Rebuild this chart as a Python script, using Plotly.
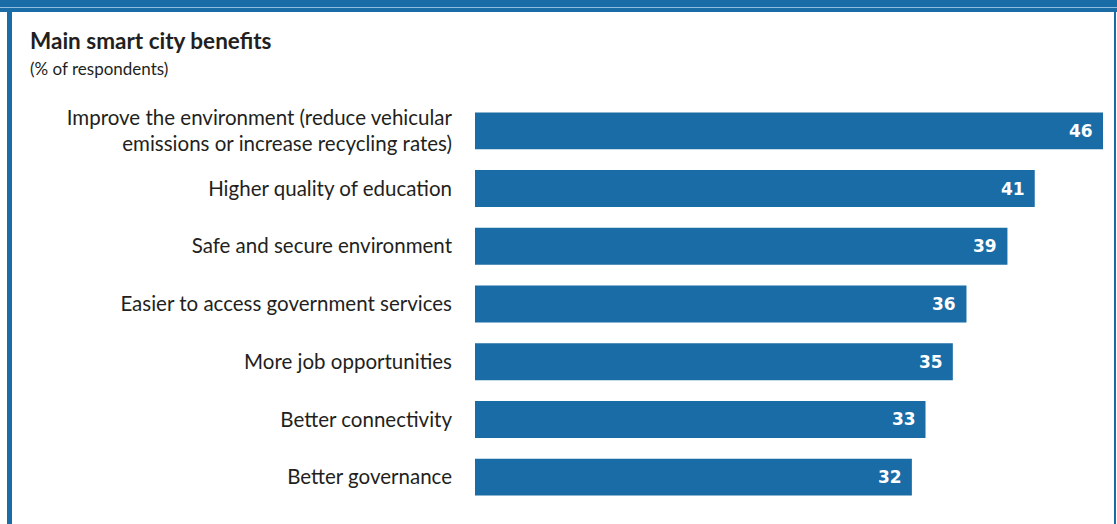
import plotly.graph_objects as go

# Survey results: share of respondents naming each benefit
categories = [
    "Improve the environment (reduce vehicular<br>emissions or increase recycling rates)",
    "Higher quality of education",
    "Safe and secure environment",
    "Easier to access government services",
    "More job opportunities",
    "Better connectivity",
    "Better governance",
]
values = [46, 41, 39, 36, 35, 33, 32]

BLUE = "#1a6ca6"
TEXT = "#231f20"
W, H = 1117, 524
L, R, T, B = 475, 14, 102, 18
pw, ph = W - L - R, H - T - B


def px_x(p):
    return (p - L) / pw


def px_y(p):
    return 1 - (p - T) / ph


fig = go.Figure(
    go.Bar(
        x=values,
        y=categories,
        orientation="h",
        marker=dict(color=BLUE, line=dict(width=0)),
        hoverinfo="skip",
    )
)

# value labels inside the bar ends
for c, v in zip(categories, values):
    fig.add_annotation(
        x=v, y=c, xref="x", yref="y", text=f"<b>{v}</b>",
        showarrow=False, xanchor="right", xshift=-8,
        font=dict(family="DejaVu Sans, Verdana, sans-serif", size=17, color="white"),
    )

# title block
fig.add_annotation(
    x=px_x(28), y=px_y(40), xref="paper", yref="paper", xanchor="left", yanchor="middle",
    text="<b>Main smart city benefits</b>", showarrow=False,
    font=dict(family="Lato, Noto Sans, sans-serif", size=22.5, color=TEXT),
)
fig.add_annotation(
    x=px_x(28), y=px_y(69), xref="paper", yref="paper", xanchor="left", yanchor="middle",
    text="(% of respondents)", showarrow=False,
    font=dict(family="Lato, Noto Sans, sans-serif", size=17, color=TEXT),
)

# frame: top band, left rule, right hairline
shapes = [
    dict(type="rect", xref="paper", yref="paper", x0=px_x(0), x1=px_x(W), y0=px_y(12), y1=px_y(0),
         fillcolor=BLUE, line=dict(width=0), layer="above"),
    dict(type="rect", xref="paper", yref="paper", x0=px_x(0), x1=px_x(W), y0=px_y(8), y1=px_y(7),
         fillcolor="#8fbce0", line=dict(width=0), layer="above"),
    dict(type="rect", xref="paper", yref="paper", x0=px_x(7), x1=px_x(12), y0=px_y(H), y1=px_y(10),
         fillcolor=BLUE, line=dict(width=0), layer="above"),
    dict(type="rect", xref="paper", yref="paper", x0=px_x(1114), x1=px_x(1116), y0=px_y(H), y1=px_y(10),
         fillcolor=BLUE, line=dict(width=0), layer="above"),
]

fig.update_layout(
    width=W, height=H,
    margin=dict(l=L, r=R, t=T, b=B, pad=0),
    paper_bgcolor="white", plot_bgcolor="white",
    bargap=0.36,
    showlegend=False,
    shapes=shapes,
    xaxis=dict(range=[0, 46], visible=False, fixedrange=True),
    yaxis=dict(
        autorange="reversed", showgrid=False, showline=False, zeroline=False,
        ticks="", ticklabelstandoff=22,
        tickfont=dict(family="Lato, Noto Sans, sans-serif", size=20.5, color=TEXT),
        fixedrange=True,
    ),
)

fig.write_html("out.html", config={"displayModeBar": False})
